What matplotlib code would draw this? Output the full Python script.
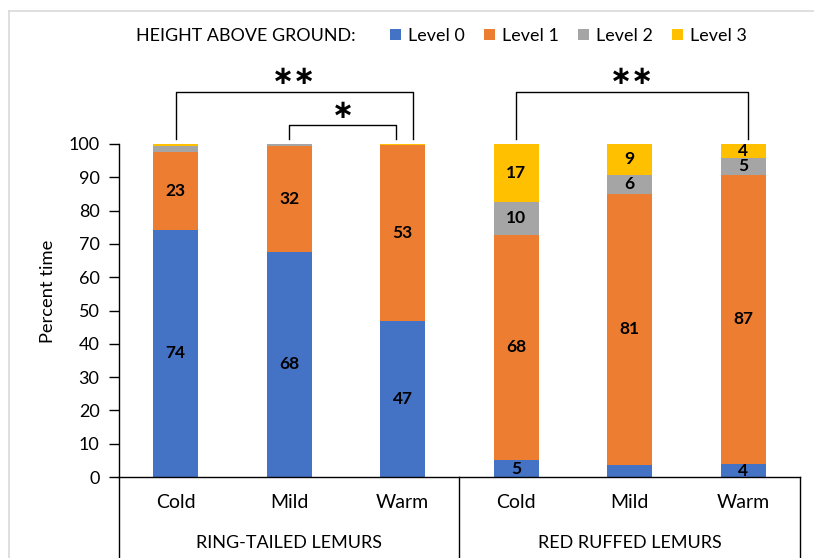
import matplotlib
matplotlib.use("Agg")
import matplotlib.pyplot as plt
from matplotlib.lines import Line2D
import numpy as np

plt.rcParams['font.family'] = ['Lato', 'DejaVu Sans']

categories = ["Cold", "Mild", "Warm", "Cold", "Mild", "Warm"]
groups = ["RING-TAILED LEMURS", "RED RUFFED LEMURS"]
level0 = [74.2, 67.6, 46.8, 5.1, 3.6, 3.9]
level1 = [23.4, 31.8, 52.8, 67.6, 81.4, 86.8]
level2 = [1.8, 0.5, 0.2, 10.0, 5.8, 5.1]
level3 = [0.6, 0.1, 0.2, 17.3, 9.2, 4.2]
series_names = ["Level 0", "Level 1", "Level 2", "Level 3"]
colors = ["#4472C4", "#ED7D31", "#A5A5A5", "#FFC000"]
yticks = [0, 10, 20, 30, 40, 50, 60, 70, 80, 90, 100]
legend_title = "HEIGHT ABOVE GROUND:"
ylabel = "Percent time"
# significance brackets: (x_left, x_right, height, stars)
brackets = [(0.0, 2.09, 115.6, "\u2217\u2217"), (1.0, 1.94, 105.6, "\u2217"),
            (3.0, 5.04, 115.6, "\u2217\u2217")]

W, H = 814, 558
fig = plt.figure(figsize=(W / 100, H / 100), dpi=100)
ax = fig.add_axes([119 / W, (H - 477) / H, (800 - 119) / W, (477 - 144) / H])

x = np.arange(len(categories))
bottom = np.zeros(len(categories))
handles = []
for vals, name, col in zip([level0, level1, level2, level3], series_names, colors):
    vals = np.array(vals)
    b = ax.bar(x, vals, 0.4, bottom=bottom, color=col, label=name, zorder=2)
    handles.append(b)
    for xi, v, bt in zip(x, vals, bottom):
        if v >= 3.8:
            ax.text(xi, bt + v / 2, f"{int(round(v))}", ha='center', va='center',
                    fontsize=12.5, fontweight='bold', color='black', zorder=3)
    bottom += vals

ax.set_xlim(-0.5, len(categories) - 0.5)
ax.set_ylim(0, 100)
ax.set_yticks(yticks)
ax.set_yticklabels([str(t) for t in yticks], fontsize=13)
ax.tick_params(axis='y', direction='out', length=7, width=1, pad=7, color='black')
ax.set_xticks([])
for s in ['top', 'right']:
    ax.spines[s].set_visible(False)
ax.spines['left'].set_linewidth(1)
ax.spines['bottom'].set_linewidth(1)
ax.set_ylabel(ylabel, fontsize=13.2)
ax.yaxis.set_label_coords(-0.092, 0.559)

# category table below axis
trans = ax.get_xaxis_transform()
for xv in [-0.5, 2.5, 5.5]:
    ax.plot([xv, xv], [0, -0.26], color='black', lw=1, transform=trans, clip_on=False)
for xi, c in zip(x, categories):
    ax.text(xi, -0.078, c, ha='center', va='center', fontsize=14, transform=trans)
for gi, g in enumerate(groups):
    ax.text(1 + 3 * gi, -0.198, g, ha='center', va='center', fontsize=13, transform=trans)

# significance brackets
for xl, xr, hgt, st in brackets:
    ax.plot([xl, xl, xr, xr], [101.4, hgt, hgt, 101.4], color='black', lw=1, clip_on=False)
    ax.text((xl + xr) / 2, hgt + 4.4, st, ha='center', va='center', fontsize=19,
            fontweight='bold', family='DejaVu Sans', clip_on=False)

# legend
fig.text(136 / W, (H - 36) / H, legend_title, ha='left', va='center', fontsize=12.9)
fig.legend(handles=handles, labels=series_names, loc='center left',
           bbox_to_anchor=(383 / W, (H - 36) / H), ncol=4, frameon=False,
           fontsize=12.9, handlelength=0.6, handleheight=0.6, handletextpad=0.4,
           columnspacing=1.08, borderaxespad=0)

# outer frame
fig.add_artist(Line2D([9 / W, 9 / W], [0, (H - 11) / H], color='#D9D9D9', lw=1.2))
fig.add_artist(Line2D([9 / W, 1], [(H - 11) / H, (H - 11) / H], color='#D9D9D9', lw=1.2))

fig.savefig("out.png", dpi=100)
